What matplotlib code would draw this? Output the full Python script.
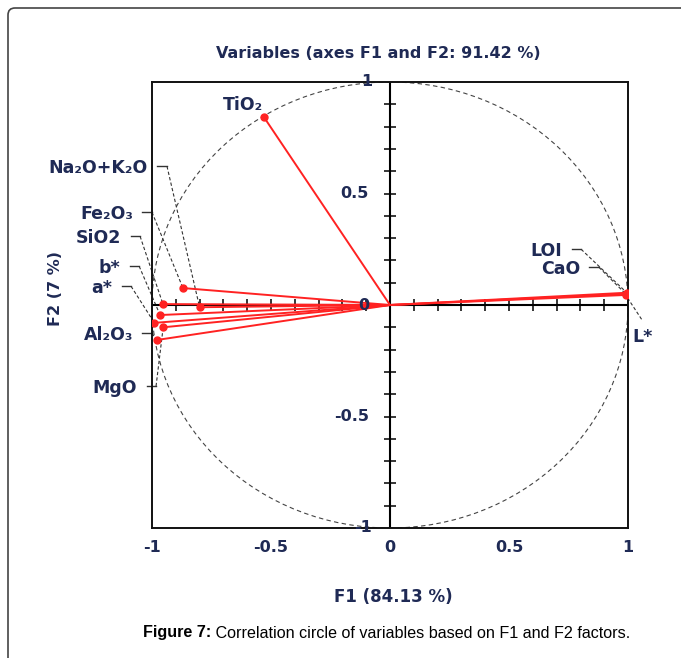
import numpy as np
import matplotlib
matplotlib.use('Agg')
import matplotlib.pyplot as plt
from matplotlib.patches import Ellipse, FancyBboxPatch

# 变量与 F1/F2 坐标
variables = ['TiO₂', 'Na₂O+K₂O', 'Fe₂O₃', 'SiO2', 'b*', 'a*', 'MgO', 'Al₂O₃', 'LOI', 'CaO', 'L*']
f1 = [-0.53, -0.80, -0.87, -0.954, -0.966, -0.99, -0.953, -0.98, 0.995, 0.99, 0.99]
f2 = [0.843, -0.01, 0.076, 0.004, -0.045, -0.08, -0.10, -0.157, 0.055, 0.05, 0.045]

title = 'Variables (axes F1 and F2: 91.42 %)'
xlabel = 'F1 (84.13 %)'
ylabel = 'F2 (7 %)'
tick_vals = [-1, -0.5, 0, 0.5, 1]
tick_text = ['-1', '-0.5', '0', '0.5', '1']

# 标签位置 (数据坐标), 对齐方式
lab_x = [-0.618, -1.017, -1.080, -1.130, -1.134, -1.168, -1.063, -1.080, 0.723, 0.798, 1.017]
lab_y = [0.897, 0.614, 0.408, 0.300, 0.166, 0.076, -0.372, -0.135, 0.242, 0.161, -0.144]
lab_ha = ['center', 'right', 'right', 'right', 'right', 'right', 'right', 'right', 'right', 'right', 'left']

navy = '#1f2a55'
red = '#ff2222'

fig = plt.figure(figsize=(6.81, 6.58), dpi=100)
ax = fig.add_axes([152 / 681, 130 / 658, 476 / 681, 446 / 658])
ax.set_xlim(-1, 1)
ax.set_ylim(-1, 1)
for s in ax.spines.values():
    s.set_linewidth(1.4)
    s.set_color('#111111')

# 单位圆
ax.add_patch(Ellipse((0, 0), 2, 2, fill=False, ls=(0, (4, 3)), lw=0.8, ec='#444444'))

# 中心轴与刻度
ax.axhline(0, color='black', lw=1.5, zorder=2)
ax.axvline(0, color='black', lw=1.5, zorder=2)
minor = [t / 10 for t in range(-9, 10) if t != 0]
ax.plot(minor, [0] * len(minor), ls='none', marker='|', ms=8, mew=1.1, color='black', zorder=2)
ax.plot([0] * len(minor), minor, ls='none', marker='_', ms=8, mew=1.1, color='black', zorder=2)

# 向量
for x, y in zip(f1, f2):
    ax.plot([0, x], [0, y], color=red, lw=1.4, zorder=3)
ax.plot(f1, f2, ls='none', marker='o', ms=5, color=red, zorder=4)

# 标签与引线
for name, x, y, lx, ly, ha in zip(variables, f1, f2, lab_x, lab_y, lab_ha):
    ax.text(lx, ly, name, ha=ha, va='center', fontsize=12.5, fontweight='bold',
            color=navy, clip_on=False, zorder=5)
    if ha == 'right':
        sx = lx + 0.04
        sy = ly + 0.008
        ax.plot([sx, sx + 0.04], [sy, sy], color='#333333', lw=1.0, clip_on=False, zorder=1)
        ax.plot([sx + 0.04, x], [sy, y], color='#333333', lw=0.8, ls=(0, (3, 2)),
                clip_on=False, zorder=1)
    elif ha == 'left':
        ax.plot([lx + 0.04, x], [ly + 0.08, y], color='#333333', lw=0.8, ls=(0, (3, 2)),
                clip_on=False, zorder=1)

# 刻度标签
ax.set_xticks(tick_vals)
ax.set_xticklabels(tick_text, fontsize=11.5, fontweight='bold', color=navy)
ax.tick_params(axis='x', length=0, pad=9)
ax.set_yticks([])
for v, t in zip(tick_vals, tick_text):
    off = -0.075 if abs(v) == 1 else -0.088
    ax.text(off, v, t, ha='right', va='center', fontsize=11.5, fontweight='bold',
            color=navy, zorder=5, clip_on=False)

fig.text(378 / 681, 1 - 53 / 658, title, ha='center', va='center', fontsize=11.5,
         fontweight='bold', color=navy)
fig.text(393 / 681, 1 - 597 / 658, xlabel, ha='center', va='center', fontsize=12,
         fontweight='bold', color=navy)
fig.text(55 / 681, 1 - 288 / 658, ylabel, ha='center', va='center', rotation=90,
         fontsize=11.5, fontweight='bold', color=navy)

# 图注
cap = fig.text(143 / 681, 1 - 633 / 658, 'Figure 7:', ha='left', va='center',
               fontsize=11.6, fontweight='bold', family='Liberation Sans')
ax.annotate(' Correlation circle of variables based on F1 and F2 factors.', xy=(1, 0.5),
            xycoords=cap, ha='left', va='center', fontsize=11.6, family='Liberation Sans',
            annotation_clip=False)

# 外框
fig.patches.append(FancyBboxPatch((0.08, -1), 10, 6.50 + 1, boxstyle='round,pad=0,rounding_size=0.07',
                                  transform=fig.dpi_scale_trans, fill=False, ec='#444444', lw=1.2))

fig.savefig('out.png', dpi=100)
